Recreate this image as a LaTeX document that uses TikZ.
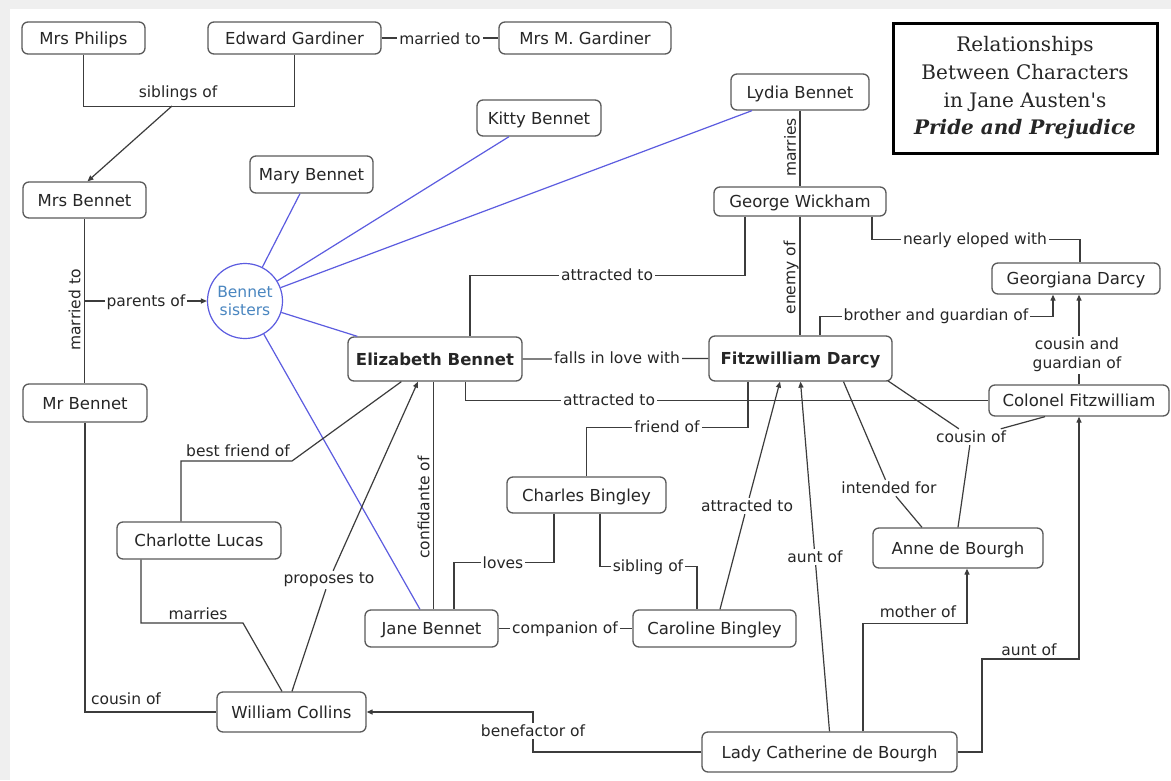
\documentclass[tikz,border=0pt]{standalone}
\usepackage{fontspec}
\usetikzlibrary{arrows.meta,calc}
\newfontfamily\dvsans{DejaVu Sans}
\newfontfamily\dvserif{DejaVu Serif}
\newcommand\myNodeFont{\dvsans\fontsize{16.5}{19}\selectfont}
\newcommand\myLabFont{\dvsans\fontsize{15.5}{18}\selectfont}
\definecolor{linec}{HTML}{3C3C3C}
\definecolor{boxc}{HTML}{5A5A5A}
\definecolor{txtc}{HTML}{262626}
\definecolor{bluel}{HTML}{5C5CE0}
\definecolor{bluet}{HTML}{4A86C0}
\definecolor{framec}{HTML}{EFEFEF}
\tikzset{
  box/.style={draw=boxc, line width=1.3pt, rounded corners=6pt, fill=white,
    text=txtc, font=\myNodeFont, inner sep=0pt, text height=12pt, text depth=0pt},
  bbox/.style={box, font=\myNodeFont\bfseries},
  lab/.style={font=\myLabFont, text=txtc, inner sep=2pt},
  wlab/.style={lab, fill=white},
  conn/.style={draw=linec, line width=1.2pt},
  thin/.style={draw=linec, line width=0.8pt},
  arr/.style={conn, -{Triangle[length=6pt,width=5pt]}},
  blueline/.style={draw=bluel, line width=1.2pt},
}
\begin{document}
\begin{tikzpicture}[x=1pt,y=-1pt]
\useasboundingbox (0,0) rectangle (1171,780);
\fill[framec] (0,0) rectangle (1171,780);
\fill[white] (10,9) rectangle (1171,780);

% ---------- nodes ----------
\node[box, minimum width=123pt, minimum height=32pt] (philips) at (83.5,38) {Mrs Philips};
\node[box, minimum width=173pt, minimum height=32pt] (gardiner) at (294.5,38) {Edward Gardiner};
\node[box, minimum width=172pt, minimum height=32pt] (mgard) at (585,38) {Mrs M. Gardiner};
\node[box, minimum width=138pt, minimum height=36pt] (lydia) at (800,92) {Lydia Bennet};
\node[box, minimum width=124pt, minimum height=36pt] (kitty) at (539,118) {Kitty Bennet};
\node[box, minimum width=123pt, minimum height=37pt] (mary) at (311.5,174.5) {Mary Bennet};
\node[box, minimum width=123pt, minimum height=36pt] (mrsb) at (84.5,200) {Mrs Bennet};
\node[box, minimum width=172pt, minimum height=29pt] (wickham) at (800,201.5) {George Wickham};
\node[box, minimum width=168pt, minimum height=31pt] (georgiana) at (1076,278.5) {Georgiana Darcy};
\node[draw=bluel, line width=1.2pt, circle, minimum size=75pt, inner sep=0pt, fill=white,
      text=bluet, font=\myLabFont, align=center] (sis) at (245,301) {Bennet\\sisters};
\node[bbox, minimum width=174pt, minimum height=44pt] (eliz) at (435,359) {Elizabeth Bennet};
\node[bbox, minimum width=183pt, minimum height=45pt] (darcy) at (800.5,358.5) {Fitzwilliam Darcy};
\node[box, minimum width=124pt, minimum height=38pt] (mrb) at (85,403) {Mr Bennet};
\node[box, minimum width=180pt, minimum height=31pt] (colonel) at (1079,400.5) {Colonel Fitzwilliam};
\node[box, minimum width=159pt, minimum height=36pt] (charles) at (586.5,495) {Charles Bingley};
\node[box, minimum width=164pt, minimum height=37pt] (charlotte) at (199,540.5) {Charlotte Lucas};
\node[box, minimum width=170pt, minimum height=40pt] (anne) at (958,548) {Anne de Bourgh};
\node[box, minimum width=133pt, minimum height=37pt] (jane) at (431.5,628.5) {Jane Bennet};
\node[box, minimum width=163pt, minimum height=37pt] (caroline) at (714.5,628.5) {Caroline Bingley};
\node[box, minimum width=149pt, minimum height=40pt] (collins) at (291.5,712) {William Collins};
\node[box, minimum width=255pt, minimum height=40pt] (lady) at (829.5,752) {Lady Catherine de Bourgh};

% title
\node[draw=black, line width=3pt, minimum width=264pt, minimum height=130pt, inner sep=0pt,
      align=center, font=\dvserif\fontsize{20}{27.7}\selectfont, text=txtc] (title) at (1025,88)
  {Relationships\\Between Characters\\in Jane Austen's\\{\bfseries\itshape Pride and Prejudice}};

% linking-phrase nodes
\node[lab] (cous) at (971,437) {cousin of};
\node[lab] (intd) at (889,488) {intended for};
\node[lab] (attc) at (747,506) {attracted to};
\node[lab] (auntd) at (815,557) {aunt of};
\node[lab] (prop) at (329,580) {proposes to};
\node[lab] (bene) at (533,731) {benefactor of};

% ---------- blue connectors ----------
\draw[blueline] (sis) -- ($(mary.south)+(-11.5,0)$);
\draw[blueline] (sis) -- ($(kitty.south)+(-30,0)$);
\draw[blueline] (sis) -- ($(lydia.south)+(-48,0)$);
\draw[blueline] (sis) -- ($(eliz.north west)+(10,0)$);
\draw[blueline] (sis) -- ($(jane.north)+(-11.5,0)$);

% ---------- connectors ----------
\draw[conn] (gardiner.east) -- (mgard.west);
\draw[conn] (philips.south) -- ++(0,52) -| (gardiner.south);
\coordinate (sib) at (172,106);
\draw[arr] (sib) -- ($(mrsb.north)+(3,0)$);
\draw[conn] (mrsb.south) -- (mrsb.south |- mrb.north);
\draw[arr] (mrsb.south |- sis.west) -- (sis.west);
\draw[conn] (mrb.south) |- (collins.west);

\draw[conn] (lydia.south) -- (wickham.north);
\draw[conn] ($(wickham.south)+(-55,0)$) -- ++(0,59) -| ($(eliz.north)+(35,0)$);
\draw[conn] (wickham.south) -- (wickham.south |- darcy.north);
\draw[conn] ($(wickham.south)+(72,0)$) |- ($(georgiana.north)+(4,-23)$) -- ($(georgiana.north)+(4,0)$);
\draw[arr] ($(darcy.north)+(19.5,0)$) |- ($(georgiana.south)+(-23,22)$) -- ($(georgiana.south)+(-23,0)$);
\draw[arr] (colonel.north) -- (colonel.north |- georgiana.south);

\draw[conn] (eliz.east) -- (darcy.west);
\draw[thin] ($(eliz.south)+(30,0)$) |- (colonel.west);
\draw[conn] ($(darcy.south)+(-52.5,0)$) -- ++(0,46) -| (charles.north);

\draw[conn] ($(darcy.south east)+(-5,-1)$) -- (cous);
\draw[conn] (cous) -- ($(colonel.south)+(-34,0)$);
\draw[conn] (cous) -- (anne.north);
\draw[conn] ($(darcy.south)+(43,0)$) -- (intd);
\draw[conn] (intd) -- ($(anne.north)+(-36,0)$);
\draw[conn] ($(caroline.north)+(5.5,0)$) -- (attc);
\draw[arr] (attc) -- ($(darcy.south)+(-20.5,0)$);
\draw[conn] (lady.north) -- (auntd);
\draw[arr] (auntd) -- (darcy.south);

\draw[conn] ($(charles.south)+(13.5,0)$) |- ($(caroline.north)+(-17.5,-43)$) -- ($(caroline.north)+(-17.5,0)$);
\draw[conn] ($(charles.south)+(-32.5,0)$) |- ($(jane.north)+(22.5,-47)$) -- ($(jane.north)+(22.5,0)$);
\draw[conn] (jane.east) -- (caroline.west);
\coordinate (cf) at ($(jane.north)+(1.5,0)$);
\draw[thin] (cf) -- (cf |- eliz.south);

\coordinate (bf) at (292,461);
\draw[conn] ($(charlotte.north)+(-18,0)$) |- (bf) -- ($(eliz.south west)+(54,0)$);
\coordinate (mar) at (243,623);
\draw[conn] ($(charlotte.south)+(-58,0)$) |- (mar) -- ($(collins.north)+(-9.5,0)$);
\draw[conn] ($(collins.north)+(0.5,0)$) -- (prop);
\draw[arr] (prop) -- ($(eliz.south)+(-17,0)$);

\draw[conn] (lady.west) -| (bene);
\draw[arr] (bene) |- (collins.east);
\draw[arr] ($(lady.north)+(33.5,0)$) |- ($(anne.south)+(9,55)$) -- ($(anne.south)+(9,0)$);
\coordinate (ac) at (982,659);
\draw[arr] (lady.east) -| (ac) -| (colonel.south);

% ---------- labels on connectors ----------
\node[wlab] at (440,39) {married to};
\node[lab] at (178,93) {siblings of};
\node[lab, rotate=90] at (74.5,310) {married to};
\node[wlab] at (146,302) {parents of};
\node[lab] at (126,699) {cousin of};
\node[lab, rotate=90] at (790,147.5) {marries};
\node[wlab] at (607,275) {attracted to};
\node[lab, rotate=90] at (791,278) {enemy of};
\node[wlab] at (975,240) {nearly eloped with};
\node[wlab] at (936,316) {brother and guardian of};
\node[wlab, align=center, font=\dvsans\fontsize{15.5}{19}\selectfont] at (1077,355) {cousin and\\guardian of};
\node[wlab] at (617,358) {falls in love with};
\node[wlab] at (609,400) {attracted to};
\node[wlab] at (667,427) {friend of};
\node[wlab] at (648,567) {sibling of};
\node[wlab] at (503,563) {loves};
\node[wlab] at (565,629) {companion of};
\node[lab, rotate=90] at (423.5,507.5) {confidante of};
\node[lab] at (238,451) {best friend of};
\node[lab] at (198,614) {marries};
\node[lab] at (918,612) {mother of};
\node[lab] at (1029,650) {aunt of};
\end{tikzpicture}
\end{document}
